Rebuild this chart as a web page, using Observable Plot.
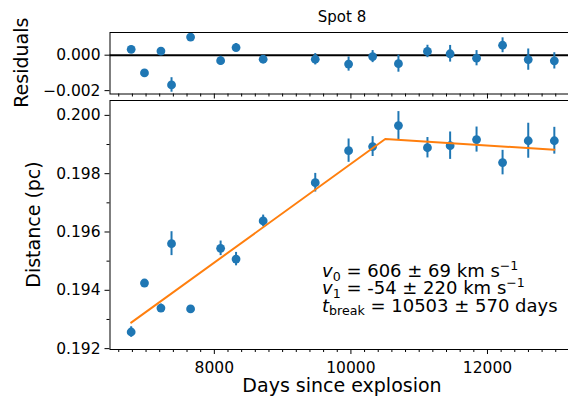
<!DOCTYPE html>
<html><head><meta charset="utf-8">
<script src="https://cdn.jsdelivr.net/npm/d3@7"></script>
<script src="https://cdn.jsdelivr.net/npm/@observablehq/plot@0.6"></script>
<style>
html,body{margin:0;padding:0;background:#fff;overflow:hidden;}
#wrap{position:relative;width:568px;height:403px;overflow:hidden;font-family:"DejaVu Sans";}
#top,#bot,#over{position:absolute;left:0;width:576px;}
#top{top:0;height:97px}
#bot{top:97px;height:306px}
#over{top:0;height:403px;pointer-events:none}
</style></head><body>
<div id="wrap"><div id="top"></div><div id="bot"></div><svg id="over" width="576" height="403"></svg></div>
<script>
// ---- data ----
const days = [6782, 6977, 7218, 7373, 7652, 8092, 8318, 8715, 9478, 9966, 10318, 10696, 11121, 11453, 11840, 12221, 12597, 12979];
const distance = [0.19257, 0.19425, 0.19339, 0.19560, 0.19336, 0.19544, 0.19507, 0.19638, 0.19769, 0.19879, 0.19893, 0.19965, 0.19889, 0.19896, 0.19917, 0.19838, 0.19913, 0.19913];
const distErr = [0.00018, 0.00011, 0.00014, 0.00041, 0.00010, 0.00025, 0.00023, 0.00020, 0.00032, 0.00040, 0.00034, 0.00048, 0.00035, 0.00047, 0.00043, 0.00042, 0.00060, 0.00046];
const residuals = [0.00033, -0.00100, 0.00023, -0.00168, 0.00102, -0.00031, 0.00043, -0.00023, -0.00023, -0.00050, -0.00008, -0.00048, 0.00021, 0.00008, -0.00017, 0.00056, -0.00025, -0.00032];
const fitDays = [6782, 10503, 12979];
const fitDist = [0.19289, 0.19919, 0.19882];
const xMajorTicks = [8000, 10000, 12000];
const xMinorTicks = [6600, 6800, 7000, 7200, 7400, 7600, 7800, 8200, 8400, 8600, 8800, 9000, 9200, 9400, 9600, 9800, 10200, 10400, 10600, 10800, 11000, 11200, 11400, 11600, 11800, 12200, 12400, 12600, 12800, 13000, 13200];
const resTicks = [0, -0.002];
const distMajorTicks = [0.192, 0.194, 0.196, 0.198, 0.200];
const distMinorTicks = [0.193, 0.195, 0.197, 0.199];
const titleText = "Spot 8";
const xLabel = "Days since explosion";
const yLabelTop = "Residuals";
const yLabelBottom = "Distance (pc)";

const pts = days.map((d, i) => ({day: d, dist: distance[i], err: distErr[i], res: residuals[i]}));
const fit = fitDays.map((d, i) => ({day: d, dist: fitDist[i]}));

const BLUE = "#1f77b4", ORANGE = "#ff7f0e";
const xDomain = [6472, 13289];
const fmt3 = d3.format(".3f");
const baseStyle = {fontFamily: "DejaVu Sans", fontSize: "15.5px", color: "black", background: "transparent", overflow: "visible", maxWidth: "none"};

const topPlot = Plot.plot({
  width: 576, height: 97,
  marginLeft: 109.5, marginRight: 1, marginTop: 32, marginBottom: 3.5,
  x: {domain: xDomain, axis: null},
  y: {domain: [-0.00219, 0.00128], axis: null},
  style: baseStyle,
  marks: [
    Plot.ruleY([0], {stroke: "black", strokeWidth: 2}),
    Plot.ruleX(pts, {x: "day", y1: d => d.res - d.err, y2: d => d.res + d.err, stroke: BLUE, strokeWidth: 2}),
    Plot.dot(pts, {x: "day", y: "res", r: 4.4, fill: BLUE, stroke: null}),
    Plot.axisY({ticks: resTicks, tickFormat: fmt3, tickSize: 5, tickPadding: 4.5, label: null, fontSize: 15.5}),
    Plot.axisX({ticks: xMajorTicks, tickSize: 5, tickFormat: () => "", label: null}),
    Plot.axisX({ticks: xMinorTicks, tickSize: 3, tickFormat: () => "", label: null}),
    Plot.frame({stroke: "black", strokeWidth: 1})
  ]
});
document.getElementById("top").appendChild(topPlot);

const botPlot = Plot.plot({
  width: 576, height: 306,
  marginLeft: 109.5, marginRight: 1, marginTop: 3, marginBottom: 54,
  x: {domain: xDomain, axis: null},
  y: {domain: [0.19197, 0.20051], axis: null},
  style: baseStyle,
  marks: [
    Plot.ruleX(pts, {x: "day", y1: d => d.dist - d.err, y2: d => d.dist + d.err, stroke: BLUE, strokeWidth: 2}),
    Plot.dot(pts, {x: "day", y: "dist", r: 4.4, fill: BLUE, stroke: null}),
    Plot.line(fit, {x: "day", y: "dist", stroke: ORANGE, strokeWidth: 2}),
    Plot.axisY({ticks: distMajorTicks, tickFormat: fmt3, tickSize: 5, tickPadding: 4.5, label: null, fontSize: 15.5}),
    Plot.axisY({ticks: distMinorTicks, tickFormat: () => "", tickSize: 3, label: null}),
    Plot.axisX({ticks: xMajorTicks, tickFormat: d => String(d), tickSize: 5, tickPadding: 7, label: null, fontSize: 15.5}),
    Plot.axisX({ticks: xMinorTicks, tickSize: 3, tickFormat: () => "", label: null}),
    Plot.frame({stroke: "black", strokeWidth: 1})
  ]
});
document.getElementById("bot").appendChild(botPlot);

// ---- overlay texts: title, axis labels, annotation ----
const over = d3.select("#over").style("font-family", "DejaVu Sans").attr("fill", "black");
over.append("text").attr("x", 342).attr("y", 22).attr("text-anchor", "middle").attr("font-size", 15).text(titleText);
over.append("text").attr("x", 342).attr("y", 392).attr("text-anchor", "middle").attr("font-size", 19).text(xLabel);
over.append("text").attr("transform", "translate(28,62.7) rotate(-90)").attr("text-anchor", "middle").attr("font-size", 19).text(yLabelTop);
over.append("text").attr("transform", "translate(40,224.5) rotate(-90)").attr("text-anchor", "middle").attr("font-size", 19).text(yLabelBottom);

const ann = [
  {sym: "v", sub: "0", rest: " = 606 \u00b1 69 km s", sup: "\u22121"},
  {sym: "v", sub: "1", rest: " = -54 \u00b1 220 km s", sup: "\u22121"},
  {sym: "t", sub: "break", rest: " = 10503 \u00b1 570 days", sup: null}
];
const annX = 322, annY0 = 277, annDy = 17.3, annFs = 18;
ann.forEach((a, i) => {
  const t = over.append("text").attr("x", annX).attr("y", annY0 + i * annDy).attr("font-size", annFs);
  t.append("tspan").attr("font-style", "italic").text(a.sym);
  t.append("tspan").attr("font-size", annFs * 0.7).attr("dy", 3.5).text(a.sub);
  t.append("tspan").attr("dy", -3.5).text(a.rest);
  if (a.sup) t.append("tspan").attr("font-size", annFs * 0.7).attr("dy", -7).text(a.sup);
});
</script>
</body></html>
